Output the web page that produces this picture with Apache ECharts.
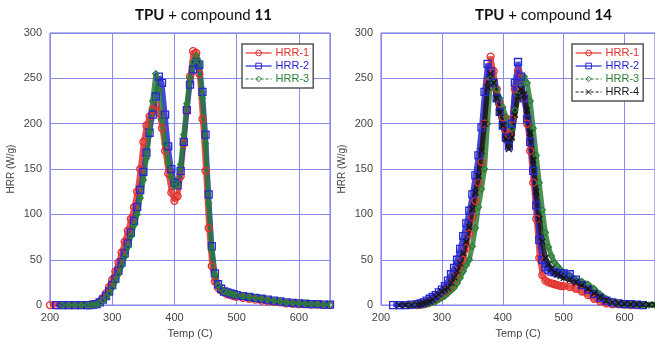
<!DOCTYPE html>
<html>
<head>
<meta charset="utf-8">
<script src="https://cdn.jsdelivr.net/npm/echarts@6/dist/echarts.min.js"></script>
<style>
  html, body { margin: 0; padding: 0; background: #fff; }
  #chart { width: 655px; height: 344px; }
</style>
</head>
<body>
<div id="chart"></div>
<script>
// temperature points (C)
const temps = [200, 210, 220, 230, 240, 250,
  260, 265, 270, 275, 280, 285, 290, 295, 300, 305, 310, 315, 320, 325, 330, 335, 340, 345, 350, 355,
  360, 365, 370, 375, 380, 385, 390, 395, 400, 405, 410, 415, 420, 425, 430, 435, 440, 445, 450, 455,
  460, 465, 470, 475, 480, 485, 490, 495, 500,
  510, 520, 530, 540, 550, 560, 570, 580, 590, 600, 610, 620, 630, 640, 650];

// TPU + compound 11
const c11Hrr1 = [0, 0, 0, 0, 0, 0,
  0, 0.5, 1, 2, 4, 8, 13, 20, 28, 37, 47, 58, 70, 82, 95, 108, 125, 150, 180, 198,
  208, 216, 220, 212, 195, 170, 145, 124, 115, 120, 142, 178, 215, 252, 280, 278, 255, 205, 148, 85,
  43, 26, 19, 16, 14, 12, 11, 10, 9,
  8, 7, 6, 5, 4, 3.5, 3, 2, 1.5, 1, 1, 0.5, 0.5, 0, 0];
const c11Hrr2 = [null, 0, 0, 0, 0, 0,
  0, 0, 0.5, 1, 3, 6, 10, 15, 22, 29, 38, 47, 57, 68, 80, 93, 108, 127, 147, 168,
  190, 210, 230, 252, 245, 210, 175, 150, 135, 132, 148, 180, 215, 243, 260, 268, 265, 235, 188, 122,
  65, 35, 23, 18, 15, 14, 13, 12, 11,
  10, 9, 8, 7, 6, 5, 4, 3, 2.5, 2, 1.5, 1, 1, 0.5, 0.5];
const c11Hrr3 = [null, null, 0, 0, 0, 0,
  0, 0, 0, 1, 2, 5, 8, 13, 19, 26, 34, 43, 53, 64, 76, 88, 100, 118, 138, 162,
  192, 225, 255, 238, 205, 178, 157, 141, 131, 133, 155, 188, 222, 250, 268, 275, 268, 228, 178, 112,
  60, 33, 22, 18, 15, 14, 13, 12, 11,
  10, 9, 8, 7, 6, 5, 4, 3, 2.5, 2, 1.5, 1, 1, 0.5, 0.5];

// TPU + compound 14
const c14Hrr1 = [null, null, null, null, null, 0,
  0, 0.5, 1, 2, 3, 5, 7, 9, 12, 15, 17, 21, 27, 33, 41, 50, 63, 79, 97, 115,
  135, 158, 200, 245, 274, 258, 238, 222, 207, 193, 188, 205, 238, 258, 250, 228, 200, 170, 135, 95,
  52, 33, 27, 25, 24, 23, 22, 21, 21,
  20, 18, 15, 11, 7, 4, 2, 1, 1, 0.5, 0, 0, null, null, null];
const c14Hrr2 = [null, null, 0, 0, 0, 0.5,
  1, 2, 3, 5, 7, 9, 11, 14, 17, 21, 27, 34, 41, 50, 62, 76, 90, 104, 122, 143,
  165, 196, 235, 266, 258, 245, 228, 213, 198, 185, 175, 200, 245, 268, 252, 228, 205, 180, 148, 110,
  72, 50, 42, 39, 37, 36, 35, 35, 35,
  34, 28, 22, 17, 12, 8, 5, 3, 2, 1, 1, 0.5, 0, null, null];
const c14Hrr3 = [null, null, null, null, null, 0,
  0, 0, 0.5, 1, 2, 3, 4, 6, 8, 10, 13, 16, 19, 24, 30, 37, 44, 50, 65, 85,
  108, 128, 150, 200, 250, 245, 238, 228, 218, 208, 198, 195, 215, 232, 245, 252, 245, 225, 195, 165,
  135, 105, 80, 64, 54, 47, 43, 39, 36,
  31, 28, 26, 23, 18, 12, 7, 4, 2, 1, 0.5, 0.5, 0, 0, 0];
const c14Hrr4 = [null, null, null, 0, 0, 0,
  0.5, 1, 2, 3, 4, 6, 9, 12, 15, 17, 19, 25, 31, 38, 46, 57, 70, 86, 106, 124,
  142, 170, 200, 240, 255, 245, 228, 212, 198, 183, 172, 185, 210, 230, 238, 232, 215, 190, 160, 125,
  95, 70, 52, 45, 40, 36, 34, 32, 30,
  28, 25, 22, 18, 13, 9, 5, 3, 2, 1.5, 1, 1, 0.5, 0.5, 0.5];

const RED = '#e2302c', BLUE = '#2626d2', GREEN = '#2b7f36', BLACK = '#161616';
const GRID_LINE = '#8a8aef', FRAME = '#6666e4', LABEL = '#444';

const pairs = (vals) => temps.map((t, i) => [t, vals[i]]).filter((p) => p[1] !== null);

// 每条曲线都是密集的空心标记，用粗线把标记连成一条带
const makeSeries = (name, vals, idx, color, symbol, size) => ({
  name,
  type: 'line',
  xAxisIndex: idx,
  yAxisIndex: idx,
  data: pairs(vals),
  symbol,
  symbolSize: size,
  showSymbol: true,
  lineStyle: { color, width: 5, opacity: 0.85 },
  itemStyle: { color: 'rgba(0,0,0,0)', borderColor: color, borderWidth: 1.3 },
  emphasis: { disabled: true },
  z: 3,
});

const xAxisOf = (gridIndex) => ({
  gridIndex,
  type: 'value',
  min: 200,
  max: 650,
  interval: 100,
  name: 'Temp (C)',
  nameLocation: 'middle',
  nameGap: 22,
  nameTextStyle: { color: LABEL, fontSize: 11, fontFamily: 'Liberation Sans' },
  axisLine: { show: false },
  axisTick: { show: false },
  axisLabel: { color: LABEL, fontSize: 11, fontFamily: 'Liberation Sans', margin: 7, showMaxLabel: false },
  splitLine: { lineStyle: { color: GRID_LINE, width: 1 } },
});

const yAxisOf = (gridIndex) => ({
  gridIndex,
  type: 'value',
  min: 0,
  max: 300,
  interval: 50,
  name: 'HRR (W/g)',
  nameLocation: 'middle',
  nameRotate: 90,
  nameGap: 34,
  nameTextStyle: { color: LABEL, fontSize: 10, fontFamily: 'Liberation Sans' },
  axisLine: { show: false },
  axisTick: { show: false },
  axisLabel: { color: LABEL, fontSize: 11, fontFamily: 'Liberation Sans', margin: 8 },
  splitLine: { lineStyle: { color: GRID_LINE, width: 1 } },
});

const legendOf = (left, names, colors, dashed) => ({
  orient: 'vertical',
  left,
  top: 44,
  padding: [3, 4, 3, 3],
  itemGap: 1,
  itemWidth: 26,
  itemHeight: 7,
  borderColor: '#555',
  borderWidth: 1.5,
  backgroundColor: '#fff',
  selectedMode: false,
  lineStyle: { width: 1.2, opacity: 1 },
  itemStyle: { borderWidth: 1 },
  textStyle: { fontSize: 11, fontFamily: 'Liberation Sans', padding: [0, 0, 0, -1], lineHeight: 12 },
  data: names.map((n, i) => ({
    name: n,
    textStyle: { color: colors[i] },
    lineStyle: dashed[i] ? { type: [3, 2], width: 1.2, opacity: 1 } : { width: 1.2, opacity: 1 },
  })),
});

const titleOf = (left, num) => ({
  text: '{b|TPU}{n| + compound }{b|' + num + '}',
  left,
  top: 3,
  textStyle: {
    fontWeight: 'normal',
    rich: {
      n: { fontFamily: 'Lato', fontSize: 15, fontWeight: 'normal', color: '#111' },
      b: { fontFamily: 'Lato', fontSize: 15, fontWeight: 'bold', color: '#111' },
    },
  },
});

const chart = echarts.init(document.getElementById('chart'));
const XSYM = 'path://M0,0L10,10M10,0L0,10';

chart.setOption({
  animation: false,
  backgroundColor: '#fff',
  title: [titleOf(130, '11'), titleOf(470, '14')],
  grid: [
    { left: 50, top: 33, width: 280, height: 280, show: true, borderColor: FRAME, borderWidth: 1 },
    { left: 381, top: 33, width: 280, height: 280, show: true, borderColor: FRAME, borderWidth: 1 },
  ],
  xAxis: [xAxisOf(0), xAxisOf(1)],
  yAxis: [yAxisOf(0), yAxisOf(1)],
  legend: [
    legendOf(242, ['HRR-1', 'HRR-2', 'HRR-3'], [RED, BLUE, GREEN], [false, false, true]),
    legendOf(572, ['HRR-1', 'HRR-2', 'HRR-3', 'HRR-4'], [RED, BLUE, GREEN, BLACK], [false, false, true, true]),
  ],
  series: [
    makeSeries('HRR-1', c11Hrr1, 0, RED, 'circle', 7),
    makeSeries('HRR-2', c11Hrr2, 0, BLUE, 'rect', 7),
    makeSeries('HRR-3', c11Hrr3, 0, GREEN, 'diamond', 6),
    makeSeries('HRR-1', c14Hrr1, 1, RED, 'circle', 7),
    makeSeries('HRR-3', c14Hrr3, 1, GREEN, 'diamond', 6),
    makeSeries('HRR-2', c14Hrr2, 1, BLUE, 'rect', 7),
    makeSeries('HRR-4', c14Hrr4, 1, BLACK, XSYM, 6),
  ],
});
</script>
</body>
</html>
